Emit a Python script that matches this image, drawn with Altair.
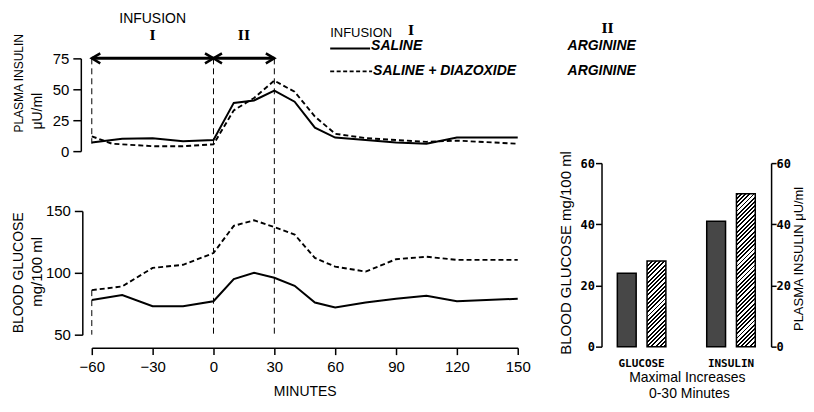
import math
import altair as alt
import pandas as pd

# ---------------- data ----------------
ins_t_saline = [-60, -45, -30, -15, 0, 10, 20, 30, 40, 50, 60, 75, 90, 105, 120, 150]
ins_saline = [7, 10, 10.5, 8, 9, 39, 41, 49, 40, 19, 11, 9, 7, 6, 11, 11]
ins_t_diaz = [-60, -50, -30, -15, 0, 10, 20, 30, 40, 50, 60, 75, 90, 105, 120, 150]
ins_diaz = [12, 6, 4, 4, 5.5, 33, 43, 57, 48, 28, 14, 10.5, 9, 7.5, 8.5, 6]

glu_t = [-60, -45, -30, -15, 0, 10, 20, 30, 40, 50, 60, 75, 90, 105, 120, 150]
glu_saline = [78, 82, 73, 73, 77, 95, 100, 96, 89.5, 76, 72, 76, 79, 81.5, 77, 79]
glu_diaz = [86, 89, 104, 106.5, 116, 138, 142.5, 137, 131, 112, 105, 101, 111, 113, 110.5, 110.5]

bar_measure = ["GLUCOSE", "GLUCOSE", "INSULIN", "INSULIN"]
bar_group = ["SALINE", "SALINE + DIAZOXIDE", "SALINE", "SALINE + DIAZOXIDE"]
bar_value = [24, 28, 41, 50]
groups = ["SALINE", "SALINE + DIAZOXIDE"]
measures = ["GLUCOSE", "INSULIN"]

x_ticks = [-60, -30, 0, 30, 60, 90, 120, 150]
ins_ticks = [0, 25, 50, 75]
glu_ticks = [50, 100, 150]
bar_ticks = [0, 20, 40, 60]
infusion_marks = [-60, 0, 30]

# ---------------- layout / style ----------------
FONT = "Liberation Sans"
SERIF = "DejaVu Serif"
MONO = "DejaVu Sans Mono"
LW, TOPH, GAP, BOTH = 427, 93, 60, 124
LH = TOPH + GAP + BOTH
BW, BH, BTOP = 170, 289, 105

xscale = alt.Scale(domain=[-60, 150], nice=False, zero=False)
ins_scale = alt.Scale(domain=[0, 75], range=[TOPH, 0], nice=False, zero=False)
glu_scale = alt.Scale(domain=[50, 150], range=[LH, TOPH + GAP], nice=False, zero=False)

ins_axis = alt.Axis(orient="left", values=ins_ticks, offset=11, tickSize=8,
                    labelFontSize=15, labelPadding=4, title=None)
glu_axis = alt.Axis(orient="left", values=glu_ticks, offset=9.5, tickSize=8,
                    labelFontSize=15, labelPadding=4, title=None)
x_axis = alt.Axis(orient="bottom", values=x_ticks, offset=13, tickSize=7, labelFontSize=15,
                  labelPadding=5, labelFlush=False, title="MINUTES",
                  titleFontSize=14, titleFontWeight="normal", titlePadding=10)


def one_row():
    return pd.DataFrame({"a": [0]})


def X(field="t:Q"):
    return alt.X(field, scale=xscale, axis=x_axis)


def XD(v):
    return alt.XDatum(v, scale=xscale, axis=x_axis)


def label(text, x, y, size=14, font=FONT, weight="normal", style="normal",
          align="center", angle=0):
    kw = dict(text=text, fontSize=size, font=font, fontWeight=weight,
              fontStyle=style, align=align, baseline="middle", color="black")
    if angle:
        kw["angle"] = angle
    xe = alt.value(x) if isinstance(x, (int, float)) else x
    return alt.Chart(one_row()).mark_text(**kw).encode(x=xe, y=alt.value(y))


def series(t, v):
    return pd.DataFrame({"t": t, "v": v})


def line(t, v, scale, axis, dashed):
    kw = dict(color="black", strokeWidth=2.0)
    if dashed:
        kw["strokeDash"] = [5, 3]
        kw["strokeWidth"] = 1.9
    return alt.Chart(series(t, v)).mark_line(**kw).encode(
        x=X(), y=alt.Y("v:Q", scale=scale, axis=axis))


# ---------------- left: insulin (top) + glucose (bottom) ----------------
vrules = alt.Chart(pd.DataFrame({"t": infusion_marks[1:]})).mark_rule(
    color="black", strokeWidth=1, strokeDash=[6, 4]).encode(
    x=X(), y=alt.YDatum(75, scale=ins_scale, axis=ins_axis), y2=alt.value(LH))
vrule_m60_top = alt.Chart(pd.DataFrame({"t": infusion_marks[:1]})).mark_rule(
    color="black", strokeWidth=1, strokeDash=[6, 4]).encode(
    x=X(), y=alt.YDatum(75, scale=ins_scale, axis=ins_axis), y2=alt.Y2Datum(6))
arrows = alt.Chart(pd.DataFrame({"s": infusion_marks[:-1], "e": infusion_marks[1:]})).mark_rule(
    color="black", strokeWidth=3).encode(
    x=X("s:Q"), x2="e:Q", y=alt.YDatum(75, scale=ins_scale, axis=ins_axis))
heads_l = alt.Chart(pd.DataFrame({"t": infusion_marks[:-1]})).mark_point(
    shape="M1.7,-1L0,0L1.7,1", size=100, filled=False, color="black",
    strokeWidth=2.5, opacity=1).encode(
    x=X(), y=alt.YDatum(75, scale=ins_scale, axis=ins_axis))
heads_r = alt.Chart(pd.DataFrame({"t": infusion_marks[1:]})).mark_point(
    shape="M-1.7,-1L0,0L-1.7,1", size=100, filled=False, color="black",
    strokeWidth=2.5, opacity=1).encode(
    x=X(), y=alt.YDatum(75, scale=ins_scale, axis=ins_axis))

top_layer = alt.layer(
    vrules, vrule_m60_top,
    line(ins_t_saline, ins_saline, ins_scale, ins_axis, False),
    line(ins_t_diaz, ins_diaz, ins_scale, ins_axis, True),
    arrows, heads_l, heads_r,
)

vrule_m60_bot = alt.Chart(pd.DataFrame({"t": infusion_marks[:1]})).mark_rule(
    color="black", strokeWidth=1, strokeDash=[6, 4]).encode(
    x=X(), y=alt.YDatum(glu_diaz[0], scale=glu_scale, axis=glu_axis), y2=alt.Y2Datum(50))
bottom_layer = alt.layer(
    vrule_m60_bot,
    line(glu_t, glu_saline, glu_scale, glu_axis, False),
    line(glu_t, glu_diaz, glu_scale, glu_axis, True),
)

legend_solid = alt.Chart(one_row()).mark_rule(color="black", strokeWidth=2).encode(
    x=alt.value(239), x2=alt.value(279), y=alt.value(-10))
legend_dash = alt.Chart(one_row()).mark_rule(color="black", strokeWidth=1.9,
                                             strokeDash=[4, 2.5]).encode(
    x=alt.value(239), x2=alt.value(281), y=alt.value(13))
anchor = alt.Chart(one_row()).mark_rule(opacity=0, strokeWidth=0).encode(
    x=alt.value(-83), x2=alt.value(-82), y=alt.value(-49))

left_texts = [
    label("PLASMA INSULIN", -73, 25, size=12, angle=270),
    label("\u03bcU/ml", -54, 53, size=14, angle=270),
    label("BLOOD GLUCOSE", -73, 215, size=14, angle=270),
    label("mg/100 ml", -55, 214, size=15, angle=270),
    label("INFUSION", XD(-30), -39.5, size=14),
    label("I", XD(-30), -22, size=13, font=SERIF, weight="bold"),
    label("II", XD(15), -22, size=13, font=SERIF, weight="bold"),
    label("INFUSION", 239, -25, size=13, align="left"),
    label("I", 320, -27, size=13, font=SERIF, weight="bold"),
    label("II", 517, -29, size=13, font=SERIF, weight="bold"),
    label("SALINE", 280, -12, size=14, weight="bold", style="italic", align="left"),
    label("ARGININE", 477, -12, size=14, weight="bold", style="italic", align="left"),
    label("SALINE + DIAZOXIDE", 282, 13, size=14, weight="bold", style="italic", align="left"),
    label("ARGININE", 477, 13, size=14, weight="bold", style="italic", align="left"),
]

left = alt.layer(
    top_layer, bottom_layer, legend_solid, legend_dash, *left_texts, anchor
).resolve_scale(y="independent").properties(width=LW, height=LH)

# ---------------- right: maximal increases bar chart ----------------
bars_df = pd.DataFrame({"measure": bar_measure, "group": bar_group, "value": bar_value})
PI, PO, OPI, OPO = 0.335, 0.116, 0.3667, 0.1833
step = BW / (len(measures) - PI + 2 * PO)
band = step * (1 - PI)
bar_w = band / (len(groups) - OPI + 2 * OPO) * (1 - OPI)
px_per_unit = (BH - BTOP) / 60.0


def hatch_fill(value, period=3.0, frac=0.45):
    W, H = bar_w, value * px_per_unit
    s = (W + H) / (W * W + H * H)
    L = (W + H) / math.sqrt(2)
    stops = []
    k = 0
    while k * period < L:
        a = k * period / L
        b = min((k * period + frac * period) / L, 1.0)
        c = min((k + 1) * period / L, 1.0)
        stops += [(a, "black"), (b, "black"), (b, "white"), (c, "white")]
        k += 1
    return alt.LinearGradient(
        gradient="linear", x1=0, y1=0, x2=s * W, y2=s * H,
        stops=[alt.GradientStop(offset=round(o, 5), color=col) for o, col in stops])


x_enc = alt.X("measure:N", scale=alt.Scale(domain=measures, paddingInner=PI, paddingOuter=PO),
              axis=alt.Axis(title=None, labelAngle=0, domain=False, ticks=False, tickSize=0,
                            labelFont=MONO, labelFontWeight="bold", labelFontSize=11,
                            labelPadding=11))
xo_enc = alt.XOffset("group:N", scale=alt.Scale(domain=groups, paddingInner=OPI, paddingOuter=OPO))
bar_scale = alt.Scale(domain=[0, 60], range=[BH, BTOP], nice=False, zero=True)


def bar_axis(orient):
    return alt.Axis(orient=orient, values=bar_ticks, title=None,
                    tickSize=6 if orient == "left" else 5,
                    labelPadding=1 if orient == "left" else 0,
                    labelFont=MONO, labelFontWeight="bold", labelFontSize=12)


def bar_layer(i, axis):
    m, g, v = bar_measure[i], bar_group[i], bar_value[i]
    fill = "#474747" if g == groups[0] else hatch_fill(v)
    return alt.Chart(bars_df).transform_filter(
        f"datum.measure == '{m}' && datum.group == '{g}'"
    ).mark_bar(fill=fill, stroke="black", strokeWidth=1.5).encode(
        x=x_enc, xOffset=xo_enc,
        y=alt.Y("value:Q", scale=bar_scale, axis=axis))


glu_bars = alt.layer(bar_layer(0, bar_axis("left")), bar_layer(1, bar_axis("left")))
ins_bars = alt.layer(bar_layer(2, bar_axis("right")), bar_layer(3, bar_axis("right")))

bar_texts = [
    label("BLOOD GLUCOSE  mg/100 ml", -36, 195, size=15, angle=270),
    label("PLASMA INSULIN  \u03bcU/ml", 197.5, 201, size=13, angle=270),
    label("Maximal  Increases", 86, 320, size=14),
    label("0-30  Minutes", 88, 336, size=14),
]

bars = alt.layer(glu_bars, ins_bars, *bar_texts).resolve_scale(
    y="independent").properties(width=BW, height=BH)

chart = alt.hconcat(left, bars, spacing=84, bounds="flush").properties(
    padding=0
).configure_view(stroke="transparent").configure_axis(
    grid=False, domainColor="black", tickColor="black", labelColor="black",
    titleColor="black", domainWidth=1.5, tickWidth=1.5, labelFont=FONT, titleFont=FONT
).configure_text(font=FONT, color="black")

chart.save("out.html", embed_options={"renderer": "svg", "actions": False})
